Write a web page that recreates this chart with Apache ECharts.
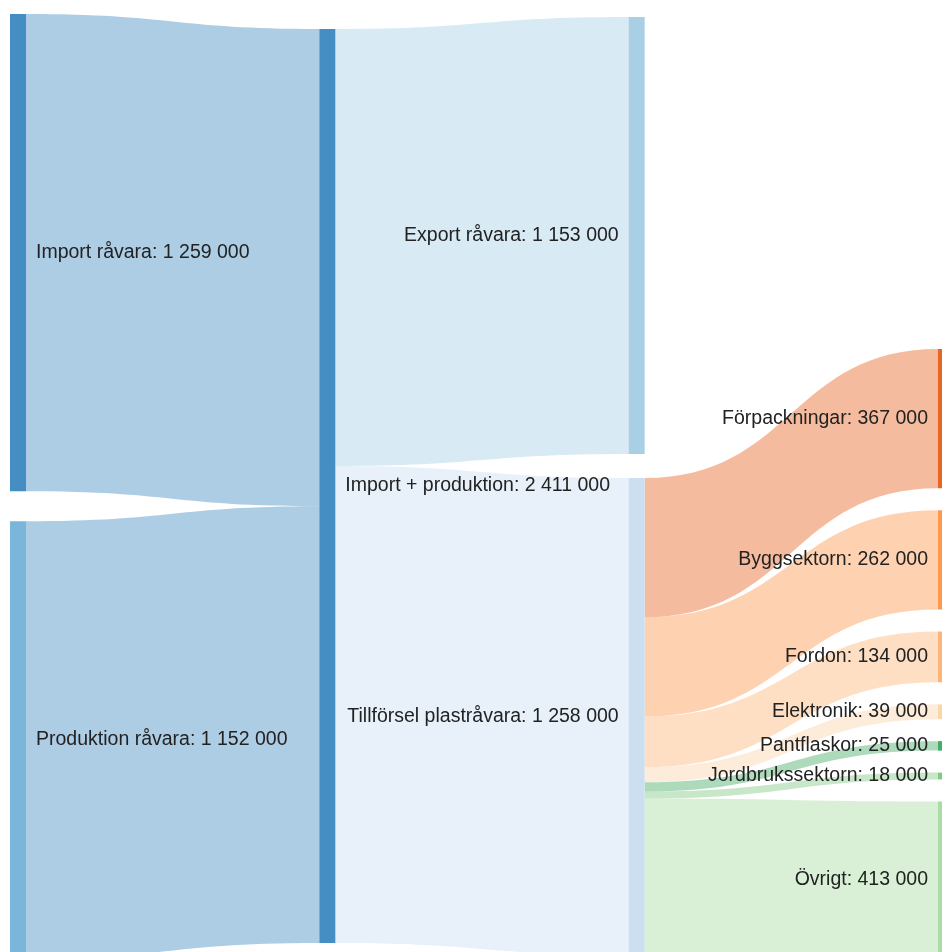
<!DOCTYPE html>
<html>
<head>
<meta charset="utf-8">
<script src="https://cdn.jsdelivr.net/npm/echarts@6/dist/echarts.min.js"></script>
<style>
html,body{margin:0;padding:0;background:#ffffff;}
#chart{width:942px;height:952px;}
</style>
</head>
<body>
<div id="chart"></div>
<script>
// ---- data ----
const sourceNodes = ['Import råvara', 'Produktion råvara'];
const sourceValues = [1259000, 1152000];
const hubNodes = ['Import + produktion'];
const hubValues = [2411000];
const splitNodes = ['Export råvara', 'Tillförsel plastråvara'];
const splitValues = [1153000, 1258000];
const sectorNodes = ['Förpackningar', 'Byggsektorn', 'Fordon', 'Elektronik', 'Pantflaskor', 'Jordbrukssektorn', 'Övrigt'];
const sectorValues = [367000, 262000, 134000, 39000, 25000, 18000, 413000];

// ---- style ----
const columnColors = [
  ['#3182bd', '#6baed6'],
  ['#3182bd'],
  ['#9ecae1', '#c6dbef'],
  ['#e6550d', '#fd8d3c', '#fdae6b', '#fdd0a2', '#31a354', '#74c476', '#a1d99b']
];
const columnLabelPos = ['right', 'right', 'left', 'left'];
const columnGap = [30, 30, 24, 22];
const columnAlign = ['center', 'center', 'center', 'bottom'];
const box = { left: 10, top: 14, width: 944, height: 944 };
const nodeWidth = 16;
const nodeGap = 30;

const columns = [sourceNodes, hubNodes, splitNodes, sectorNodes];
const columnValues = [sourceValues, hubValues, splitValues, sectorValues];

function fmt(v) {
  return String(Math.round(v)).replace(/\B(?=(\d{3})+(?!\d))/g, ' ');
}

// value scale, same rule as the library's sankey layout
const sums = columnValues.map(vs => vs.reduce((a, b) => a + b, 0));
const ky = Math.min.apply(null, columns.map((c, i) => (box.height - (c.length - 1) * nodeGap) / sums[i]));

const nodes = [];
columns.forEach((names, ci) => {
  const vals = columnValues[ci];
  const total = sums[ci] * ky + (names.length - 1) * columnGap[ci];
  let y = columnAlign[ci] === 'bottom' ? box.height - total : (box.height - total) / 2;
  names.forEach((name, ni) => {
    nodes.push({
      name: name,
      value: vals[ni],
      localY: y / box.height,
      itemStyle: { color: columnColors[ci][ni] },
      label: { position: columnLabelPos[ci] }
    });
    y += vals[ni] * ky + columnGap[ci];
  });
});

const links = [];
sourceNodes.forEach((n, i) => links.push({ source: n, target: hubNodes[0], value: sourceValues[i] }));
splitNodes.forEach((n, i) => links.push({ source: hubNodes[0], target: n, value: splitValues[i] }));
sectorNodes.forEach((n, i) => links.push({ source: splitNodes[1], target: n, value: sectorValues[i] }));

const chart = echarts.init(document.getElementById('chart'), null, { renderer: 'canvas' });
chart.setOption({
  backgroundColor: '#ffffff',
  animation: false,
  series: [{
    type: 'sankey',
    left: box.left,
    top: box.top,
    width: box.width,
    height: box.height,
    nodeWidth: nodeWidth,
    nodeGap: nodeGap,
    nodeAlign: 'left',
    layoutIterations: 0,
    draggable: false,
    emphasis: { disabled: true },
    data: nodes,
    links: links,
    itemStyle: { borderWidth: 0, opacity: 0.9 },
    lineStyle: { color: 'target', opacity: 0.4, curveness: 0.5 },
    label: {
      show: true,
      distance: 10,
      color: '#222222',
      fontSize: 19.5,
      fontFamily: "'Liberation Sans', Arial, sans-serif",
      formatter: p => p.name + ': ' + fmt(p.value)
    }
  }]
});
</script>
</body>
</html>
